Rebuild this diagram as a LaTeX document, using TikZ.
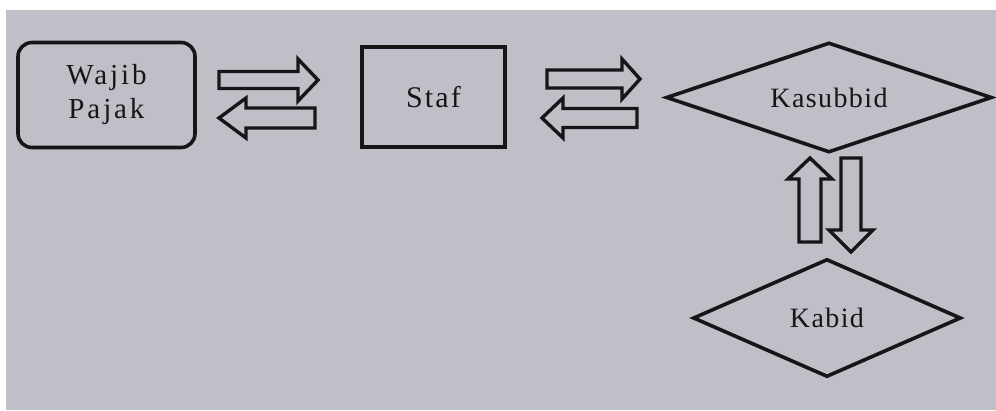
\documentclass[tikz,border=0pt]{standalone}
\usepackage{fontspec}
\setmainfont{Liberation Serif}
\usetikzlibrary{shapes.geometric}
\definecolor{paper}{RGB}{190,191,199}
\definecolor{ink}{RGB}{22,22,24}
\newcommand\blockarr[6]{% tail, tip, centre, shaft half, head half, signed head length (horizontal)
  \draw[arrline] (#1,{#3-#4}) -- ({#2-#6},{#3-#4}) -- ({#2-#6},{#3-#5}) -- (#2,#3)
    -- ({#2-#6},{#3+#5}) -- ({#2-#6},{#3+#4}) -- (#1,{#3+#4}) -- cycle;}
\newcommand\blockarrv[6]{% tail, tip (y), centre x, shaft half, head half, signed head length (vertical)
  \draw[arrline] ({#3-#4},#1) -- ({#3-#4},{#2-#6}) -- ({#3-#5},{#2-#6}) -- (#3,#2)
    -- ({#3+#5},{#2-#6}) -- ({#3+#4},{#2-#6}) -- ({#3+#4},#1) -- cycle;}
\tikzset{
  arrline/.style={draw=ink, line width=3.4pt, line join=miter, fill=paper},
  boxline/.style={draw=ink, line width=3.6pt, inner sep=0pt},
  lbl/.style={text=ink, font=\fontsize{28}{34}\selectfont\addfontfeature{LetterSpace=5}, align=center},
}
\begin{document}
\begin{tikzpicture}[x=1pt,y=-1pt]
\useasboundingbox (0,0) rectangle (996,410);
\fill[white] (0,0) rectangle (996,410);
\fill[paper] (6,10) rectangle (996,410);
% nodes
\node[boxline, rounded corners=14pt, minimum width=177pt, minimum height=105pt, lbl,
  font=\fontsize{29}{34}\selectfont\addfontfeature{LetterSpace=10}] (wp) at (106.5,95) {Wajib\\Pajak};
\node[boxline, minimum width=143pt, minimum height=100pt, lbl,
  font=\fontsize{30}{34}\selectfont\addfontfeature{LetterSpace=7}] (staf) at (433.5,97) {Staf};
\node[boxline, diamond, aspect=2.95, minimum width=326pt, minimum height=110pt, lbl] (ksb) at (829,97.5) {Kasubbid};
\node[boxline, diamond, aspect=2.25, minimum width=268pt, minimum height=118pt, lbl] (kbd) at (827,318) {Kabid};
% block arrows
\blockarr{219}{318}{80}{8.5}{21}{20}
\blockarr{315}{219}{118}{10}{20}{-27}
\blockarr{547}{640}{79}{9}{20}{18}
\blockarr{637}{542}{118}{9.5}{20}{-21}
\blockarrv{242}{158}{810}{11}{22}{-21}
\blockarrv{158}{252}{851}{10}{22}{22}
\end{tikzpicture}
\end{document}
